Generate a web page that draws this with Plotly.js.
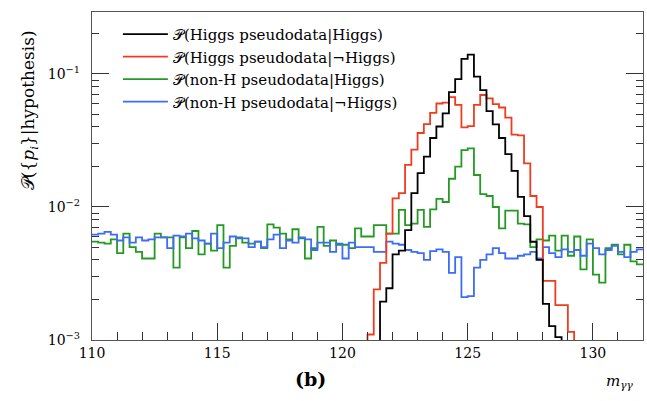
<!DOCTYPE html>
<html>
<head>
<meta charset="utf-8">
<script src="https://cdn.plot.ly/plotly-3.0.1.min.js"></script>
<style>html,body{margin:0;padding:0;background:#fff;}#chart{width:647px;height:401px;}</style>
</head>
<body>
<div id="chart"></div>
<script>
// Histogram binning (m_gammagamma, GeV)
var binLow = 110;
var binWidth = 0.25;

// Bin contents, bins 0..87 (110.00 - 132.00); null = not drawn
var higgsGivenHiggs = [
  null,null,null,null,null,null,null,null,null,null,
  null,null,null,null,null,null,null,null,null,null,
  null,null,null,null,null,null,null,null,null,null,
  null,null,null,null,null,null,null,null,null,null,
  null,null,null,0.0005,0.0005,0.0005,0.00194,0.00245,0.0044,0.0047,
  0.0067,0.0127,0.0180,0.0239,0.0330,0.0403,0.0505,0.0730,0.0915,0.130,
  0.140,0.0955,0.0755,0.0525,0.0418,0.0330,0.0250,0.0187,0.0119,0.00855,
  0.00548,0.0040,0.00187,0.00127,0.00105,0.0005,null,null,null,null,
  null,null,null,null,null,null,null,null
];
var higgsGivenNotHiggs = [
  null,null,null,null,null,null,null,null,null,null,
  null,null,null,null,null,null,null,null,null,null,
  null,null,null,null,null,null,null,null,null,null,
  null,null,null,null,null,null,null,null,null,null,
  null,null,null,0.0005,0.0011,0.0024,0.0038,0.0063,0.0116,0.0127,
  0.0207,0.0270,0.0360,0.0420,0.0510,0.0600,0.0610,0.0670,0.0585,0.0397,
  0.0406,0.0585,0.0695,0.0656,0.0594,0.0560,0.0470,0.0350,0.0345,0.0213,
  0.0121,0.0100,0.00278,0.00278,0.00183,0.00183,0.00115,0.0005,null,null,
  null,null,null,null,null,null,null,null
];
var nonHGivenHiggs = [
  0.0055,0.0054,0.0053,0.0057,0.0045,0.0063,0.0050,0.0046,0.0041,0.0041,
  0.0063,0.0059,0.0059,0.0035,0.0059,0.0049,0.0066,0.0044,0.0053,0.0047,
  0.0073,0.0035,0.0051,0.0059,0.0054,0.0053,0.0055,0.0049,0.0074,0.0070,
  0.0063,0.0057,0.0068,0.0058,0.0041,0.0049,0.0071,0.0051,0.0056,0.0052,
  0.0052,0.0049,0.0069,0.0060,0.0060,0.0073,0.0073,0.0063,0.0063,0.0095,
  0.0073,0.0075,0.0095,0.0071,0.0096,0.0115,0.0109,0.0163,0.0201,0.0268,
  0.0276,0.0174,0.0125,0.0121,0.0100,0.0069,0.0094,0.0094,0.0075,0.0074,
  0.0050,0.0057,0.0056,0.0061,0.0047,0.0061,0.0043,0.0060,0.0034,0.0057,
  0.0031,0.0027,0.0049,0.0052,0.0044,0.0052,0.0039,0.0037
];
var nonHGivenNotHiggs = [
  0.0062,0.0063,0.0065,0.0062,0.0056,0.0059,0.0054,0.0059,0.0056,0.0057,
  0.0059,0.0059,0.0049,0.0061,0.0060,0.0063,0.0058,0.0056,0.0053,0.0063,
  0.0049,0.0054,0.0060,0.0058,0.0058,0.0050,0.0055,0.0050,0.0057,0.0062,
  0.0049,0.0056,0.0054,0.0059,0.0057,0.00475,0.0054,0.0054,0.0046,0.0053,
  0.0041,0.0054,0.0050,0.0050,0.0050,0.0046,0.0046,0.0055,0.0053,0.0052,
  0.00475,0.0046,0.0045,0.0040,0.00465,0.0048,0.0046,0.0032,0.0042,0.0021,
  0.00214,0.0035,0.0040,0.0044,0.0049,0.0045,0.0041,0.0041,0.0043,0.0044,
  0.0046,0.0041,0.0050,0.0045,0.0042,0.0048,0.0046,0.00475,0.0043,0.0053,
  0.0049,0.0044,0.00475,0.0051,0.0046,0.0042,0.0046,0.0048
];

var seriesNames = [
  "𝒫(Higgs pseudodata|Higgs)",
  "𝒫(Higgs pseudodata|¬Higgs)",
  "𝒫(non-H pseudodata|Higgs)",
  "𝒫(non-H pseudodata|¬Higgs)"
];
var seriesColors = ["#000000", "#f03c1e", "#249a24", "#3c6cf8"];
var yTickVals = [0.001, 0.01, 0.1];
var yTickText = ["10<sup>−3</sup>", "10<sup>−2</sup>", "10<sup>−1</sup>"];

function stepTrace(vals, idx, rank) {
  var x = [], y = [];
  for (var i = 0; i < vals.length; i++) { x.push(binLow + binWidth * i); y.push(vals[i]); }
  x.push(binLow + binWidth * vals.length); y.push(vals[vals.length - 1]);
  return {
    x: x, y: y, type: 'scatter', mode: 'lines',
    line: {shape: 'hv', color: seriesColors[idx], width: 1.8},
    name: seriesNames[idx], legendrank: rank, legendgroup: 'g' + idx,
    connectgaps: false, hoverinfo: 'skip'
  };
}

var data = [
  stepTrace(nonHGivenHiggs, 2, 3),
  stepTrace(nonHGivenNotHiggs, 3, 4),
  stepTrace(higgsGivenNotHiggs, 1, 2),
  stepTrace(higgsGivenHiggs, 0, 1)
];

var serif = "DejaVu Serif, Liberation Serif, serif";
var layout = {
  width: 647, height: 401,
  margin: {l: 92, r: 4, t: 12, b: 61},
  paper_bgcolor: '#fff', plot_bgcolor: '#fff',
  showlegend: true,
  legend: {
    x: 0.047, y: 0.982, xanchor: 'left', yanchor: 'top',
    bgcolor: 'rgba(255,255,255,0)', borderwidth: 0,
    font: {family: serif, size: 15, color: '#000'},
    tracegroupgap: 5, itemwidth: 45, traceorder: 'normal'
  },
  xaxis: {
    range: [110, 132], tick0: 110, dtick: 5,
    ticks: 'inside', ticklen: 17, tickwidth: 1, tickcolor: '#333',
    minor: {ticks: 'inside', ticklen: 8, dtick: 1, tickcolor: '#333', tickwidth: 1},
    showline: true, linecolor: '#555', linewidth: 1.2, mirror: true,
    showgrid: false, zeroline: false,
    tickfont: {family: serif, size: 14, color: '#000'}
  },
  yaxis: {
    type: 'log', range: [-3, -0.534],
    tickvals: yTickVals, ticktext: yTickText,
    ticks: 'inside', ticklen: 17, tickwidth: 1, tickcolor: '#333',
    minor: {ticks: 'inside', ticklen: 7, dtick: 'D1', tickcolor: '#333', tickwidth: 1},
    showline: true, linecolor: '#555', linewidth: 1.2, mirror: 'allticks',
    showgrid: false, zeroline: false, ticklabelstandoff: 8,
    tickfont: {family: serif, size: 14, color: '#000'}
  },
  annotations: [
    {text: "𝒫({<i>p</i><sub><i>i</i></sub>}|hypothesis)", xref: 'paper', yref: 'paper',
     x: -0.113, y: 0.70, xanchor: 'center', yanchor: 'middle', textangle: -90,
     showarrow: false, font: {family: serif, size: 17, color: '#000'}},
    {text: "<b>(b)</b>", xref: 'paper', yref: 'paper', x: 0.396, y: -0.118,
     xanchor: 'center', yanchor: 'middle', showarrow: false,
     font: {family: serif, size: 19, color: '#000'}},
    {text: "<i>m</i><sub><i>γγ</i></sub>", xref: 'paper', yref: 'paper', x: 0.988, y: -0.125,
     xanchor: 'right', yanchor: 'middle', showarrow: false,
     font: {family: serif, size: 15, color: '#000'}}
  ]
};

Plotly.newPlot('chart', data, layout, {displayModeBar: false, staticPlot: true});
</script>
</body>
</html>
